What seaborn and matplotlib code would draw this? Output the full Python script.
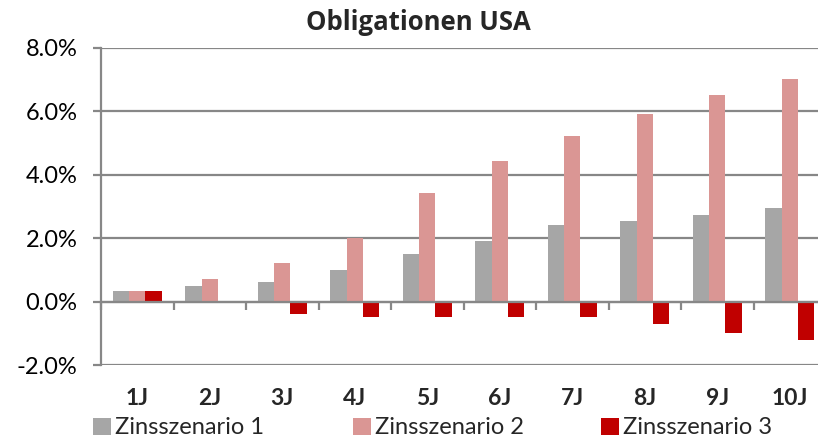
import matplotlib
matplotlib.use("Agg")
import matplotlib.pyplot as plt
import seaborn as sns
import pandas as pd
from matplotlib.patches import Patch
from matplotlib.ticker import FixedLocator, FuncFormatter

categories = ["1J", "2J", "3J", "4J", "5J", "6J", "7J", "8J", "9J", "10J"]
series_names = ["Zinsszenario 1", "Zinsszenario 2", "Zinsszenario 3"]
s1 = [0.33, 0.50, 0.62, 1.00, 1.50, 1.90, 2.42, 2.53, 2.73, 2.94]
s2 = [0.33, 0.70, 1.20, 2.00, 3.42, 4.42, 5.22, 5.92, 6.50, 7.02]
s3 = [0.33, 0.00, -0.38, -0.48, -0.48, -0.48, -0.48, -0.70, -1.00, -1.20]
colors = ["#A6A6A6", "#DA9694", "#C00000"]
y_ticks = [-2, 0, 2, 4, 6, 8]
title = "Obligationen USA"

rows = []
for name, vals in zip(series_names, [s1, s2, s3]):
    for c, v in zip(categories, vals):
        rows.append({"Laufzeit": c, "Wert": v, "Szenario": name})
df = pd.DataFrame(rows)

sns.set_style("white")
plt.rcParams["font.family"] = ["Lato", "DejaVu Sans"]

W, H = 818, 438
fig = plt.figure(figsize=(W / 100, H / 100), dpi=100)
ax = fig.add_axes([101 / W, 1 - 365 / H, 725 / W, (365 - 47.7) / H])

sns.barplot(data=df, x="Laufzeit", y="Wert", hue="Szenario", order=categories,
            hue_order=series_names, palette=colors, width=0.676, gap=0,
            saturation=1, legend=False, ax=ax, linewidth=0)

grid_c = "#878787"
ax.set_ylim(-2, 8)
ax.set_xlim(-0.5, 9.5)
ax.yaxis.set_major_locator(FixedLocator(y_ticks))
ax.yaxis.set_major_formatter(FuncFormatter(lambda v, p: f"{v:.1f}%"))
ax.set_axisbelow(True)
ax.grid(axis="y", color=grid_c, linewidth=1.6)
ax.grid(axis="x", visible=False)
ax.set_xlabel("")
ax.set_ylabel("")

for s in ["top", "right"]:
    ax.spines[s].set_visible(False)
ax.spines["left"].set_color(grid_c)
ax.spines["left"].set_linewidth(1.6)
ax.spines["bottom"].set_position(("data", 0))
ax.spines["bottom"].set_color(grid_c)
ax.spines["bottom"].set_linewidth(1.6)

ax.tick_params(axis="y", which="major", left=True, length=6, width=1.6,
               color=grid_c, pad=11, labelsize=17, labelcolor="black")
ax.xaxis.set_minor_locator(FixedLocator([i - 0.5 for i in range(len(categories) + 1)]))
ax.tick_params(axis="x", which="minor", bottom=True, length=6, width=1.6,
               color=grid_c, direction="out")
ax.tick_params(axis="x", which="major", bottom=True, length=0, pad=62,
               labelsize=16.5)
for lbl in ax.get_xticklabels():
    lbl.set_fontweight("bold")

fig.text(418 / W, 1 - 30 / H, title, ha="center", va="baseline",
         fontsize=18.5, fontweight="bold",
         family=["Open Sans", "Lato", "DejaVu Sans"])

legend_x = [93, 353, 601]
for name, col, x in zip(series_names, colors, legend_x):
    fig.legend(handles=[Patch(facecolor=col, edgecolor="none", label=name)],
               loc="center left", bbox_to_anchor=(x / W, 1 - 428 / H),
               frameon=False, fontsize=17, handlelength=0.75, handleheight=0.75,
               handletextpad=0.2, borderaxespad=0, borderpad=0)

fig.savefig("out.png", dpi=100)
